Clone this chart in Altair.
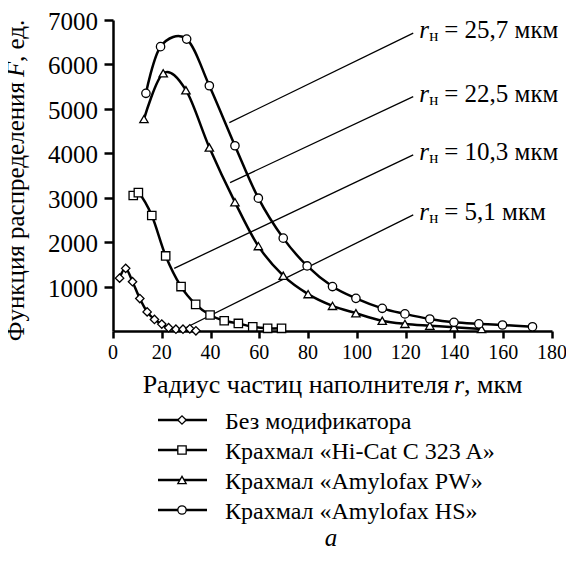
import altair as alt
import pandas as pd

# ---------------- data ----------------
series_names = [
    "Без модификатора",
    "Крахмал «Hi-Cat C 323 A»",
    "Крахмал «Amylofax PW»",
    "Крахмал «Amylofax HS»",
]
series_shapes = ["diamond", "square", "triangle-up", "circle"]
series_sizes = [70, 70, 90, 70]

diam_x = [2.7, 5.2, 8.0, 11.0, 14.0, 17.0, 20.0, 22.8, 25.8, 28.7, 31.5, 34.0]
diam_y = [1190, 1410, 1110, 730, 430, 260, 155, 75, 40, 40, 50, 5]

sq_x = [8.3, 10.4, 15.9, 21.6, 27.9, 33.9, 39.8, 45.6, 51.4, 57.3, 63.4, 69.1]
sq_y = [3050, 3115, 2600, 1690, 1000, 600, 360, 230, 170, 95, 60, 60]

tri_x = [12.7, 20.6, 29.9, 39.5, 50.0, 59.6, 69.8, 80.0, 90.0, 99.6, 110.4,
         119.7, 129.9, 139.8, 151.1]
tri_y = [4770, 5800, 5420, 4130, 2900, 1910, 1245, 830, 565, 400, 230,
         160, 120, 85, 45]

circ_x = [13.5, 19.5, 30.2, 39.5, 50.0, 59.6, 69.8, 79.6, 90.0, 99.6, 110.4,
          119.7, 129.9, 139.8, 150.0, 159.7, 172.0]
circ_y = [5350, 6400, 6570, 5520, 4170, 2990, 2090, 1465, 1000, 735, 510,
          385, 270, 195, 160, 135, 95]

# leader lines for r_н annotations
ann_x1 = [47.7, 48.0, 25.1, 30.2]
ann_y1 = [4690, 3340, 1410, 85]
ann_x2 = [123.1, 123.1, 123.1, 123.1]
ann_y2 = [6705, 5277, 3964, 2613]
ann_val = ["25,7", "22,5", "10,3", "5,1"]

x_ticks = list(range(0, 181, 20))
y_ticks = list(range(1000, 7001, 1000))

x_title_parts = ["Радиус частиц наполнителя", "r", ", мкм"]
y_title_parts = ["Функция распределения", "F", ", ед."]
panel_label = "а"

# ---------------- tables ----------------
rows = []
for name, xs, ys in zip(series_names,
                        [diam_x, sq_x, tri_x, circ_x],
                        [diam_y, sq_y, tri_y, circ_y]):
    for i, (xv, yv) in enumerate(zip(xs, ys)):
        rows.append({"series": name, "idx": i, "r": xv, "F": yv})
df = pd.DataFrame(rows)

ann = pd.DataFrame({"x1": ann_x1, "y1": ann_y1, "x2": ann_x2, "y2": ann_y2,
                    "val": ann_val})
leg = pd.DataFrame({"series": series_names, "row": list(range(len(series_names)))})
xt_df = pd.DataFrame({"v": x_ticks})
yt_df = pd.DataFrame({"v": y_ticks})

FONT = "Times New Roman"
VFONT = "Liberation Serif"
W, H = 439, 311

xscale = alt.Scale(domain=[0, 180], nice=False, zero=False)
yscale = alt.Scale(domain=[0, 7000], nice=False)
shape_scale = alt.Scale(domain=series_names, range=series_shapes)
size_scale = alt.Scale(domain=series_names, range=series_sizes)

x_axis = alt.Axis(values=x_ticks, title=None, grid=False, labels=False,
                  tickSize=7, tickWidth=2.5, domainWidth=2.5,
                  domainColor="black", tickColor="black")
y_axis = alt.Axis(values=y_ticks, title=None, grid=False, labels=False,
                  tickSize=9, tickWidth=2.5, domainWidth=2.5,
                  domainColor="black", tickColor="black")

base = alt.Chart(df)

lines = base.mark_line(interpolate="cardinal", color="black",
                       strokeWidth=2.5).encode(
    x=alt.X("r:Q", scale=xscale, axis=x_axis),
    y=alt.Y("F:Q", scale=yscale, axis=y_axis),
    detail="series:N",
    order="idx:Q",
)

points = base.mark_point(filled=True, fill="white", stroke="black",
                         strokeWidth=1.3, opacity=1).encode(
    x=alt.X("r:Q", scale=xscale),
    y=alt.Y("F:Q", scale=yscale),
    shape=alt.Shape("series:N", scale=shape_scale, legend=None),
    size=alt.Size("series:N", scale=size_scale, legend=None),
)

# tick labels drawn as text through the axis scales
x_lab = alt.Chart(xt_df).mark_text(
    font=FONT, fontSize=20, align="center", baseline="top",
    dy=12, color="black").encode(
    x=alt.X("v:Q", scale=xscale), y=alt.value(H), text=alt.Text("v:Q", format="d"))
y_lab = alt.Chart(yt_df).mark_text(
    font=FONT, fontSize=25, align="right", baseline="middle",
    dx=-15, dy=2, color="black").encode(
    y=alt.Y("v:Q", scale=yscale), x=alt.value(0), text=alt.Text("v:Q", format="d"))

abase = alt.Chart(ann)
leaders = abase.mark_rule(color="black", strokeWidth=1.3).encode(
    x=alt.X("x1:Q", scale=xscale), y=alt.Y("y1:Q", scale=yscale),
    x2="x2:Q", y2="y2:Q")

t_r = abase.mark_text(text="r", font=FONT, fontSize=25, fontStyle="italic",
                      align="left", baseline="alphabetic", dx=6, dy=5,
                      color="black").encode(
    x=alt.X("x2:Q", scale=xscale), y=alt.Y("y2:Q", scale=yscale))
t_sub = abase.mark_text(text="н", font=FONT, fontSize=17,
                        align="left", baseline="alphabetic", dx=16, dy=8,
                        color="black").encode(
    x=alt.X("x2:Q", scale=xscale), y=alt.Y("y2:Q", scale=yscale))
t_val = abase.transform_calculate(
    lab="'= ' + datum.val + ' мкм'"
).mark_text(font=FONT, fontSize=25, align="left",
            baseline="alphabetic", dx=31, dy=5, color="black").encode(
    x=alt.X("x2:Q", scale=xscale), y=alt.Y("y2:Q", scale=yscale),
    text="lab:N")

# ---------------- axis titles (with italic symbols) ----------------
def title_piece(txt, style, size=26, font=FONT, **kw):
    return alt.Chart(pd.DataFrame({"t": [txt]})).mark_text(
        font=font, fontSize=size, fontStyle=style, color="black", **kw
    ).encode(text="t:N")

xt1 = title_piece(x_title_parts[0], "normal", align="right",
                  baseline="alphabetic").encode(x=alt.value(336), y=alt.value(373))
xt2 = title_piece(x_title_parts[1], "italic", align="left",
                  baseline="alphabetic").encode(x=alt.value(341), y=alt.value(373))
xt3 = title_piece(x_title_parts[2], "normal", align="left",
                  baseline="alphabetic").encode(x=alt.value(351), y=alt.value(373))

yt1 = title_piece(y_title_parts[0], "normal", size=25, font=VFONT,
                  align="right", angle=270,
                  baseline="alphabetic").encode(x=alt.value(-89), y=alt.value(62))
yt2 = title_piece(y_title_parts[1], "italic", size=25, font=VFONT,
                  align="left", angle=270,
                  baseline="alphabetic").encode(x=alt.value(-89), y=alt.value(57))
yt3 = title_piece(y_title_parts[2], "normal", size=25, font=VFONT,
                  align="left", angle=270,
                  baseline="alphabetic").encode(x=alt.value(-89), y=alt.value(42))

# ---------------- legend (drawn below the plot) ----------------
lbase = alt.Chart(leg).transform_calculate(py="400 + 30 * datum.row")
leg_line = lbase.mark_rule(color="black", strokeWidth=2.5).encode(
    x=alt.value(45), x2=alt.value(94),
    y=alt.Y("py:Q", scale=None, axis=None))
leg_pt = lbase.mark_point(filled=True, fill="white", stroke="black",
                          strokeWidth=1.3, opacity=1).encode(
    x=alt.value(69),
    y=alt.Y("py:Q", scale=None, axis=None),
    shape=alt.Shape("series:N", scale=shape_scale, legend=None),
    size=alt.Size("series:N", scale=size_scale, legend=None))
leg_txt = lbase.mark_text(font=FONT, fontSize=24, align="left",
                          baseline="middle", dy=2, color="black").encode(
    x=alt.value(112),
    y=alt.Y("py:Q", scale=None, axis=None),
    text="series:N")

panel = title_piece(panel_label, "italic", size=25, align="center",
                    baseline="middle").encode(x=alt.value(218), y=alt.value(518))

chart = alt.layer(
    leaders, lines, points, x_lab, y_lab, t_r, t_sub, t_val,
    xt1, xt2, xt3, yt1, yt2, yt3,
    leg_line, leg_pt, leg_txt, panel
).properties(
    width=W, height=H,
    autosize=alt.AutoSizeParams(type="none"),
    padding={"left": 105, "top": 12, "right": 14, "bottom": 220},
).configure_view(
    stroke=None,
)

chart.save("out.html", embed_options={"renderer": "svg", "actions": False})
